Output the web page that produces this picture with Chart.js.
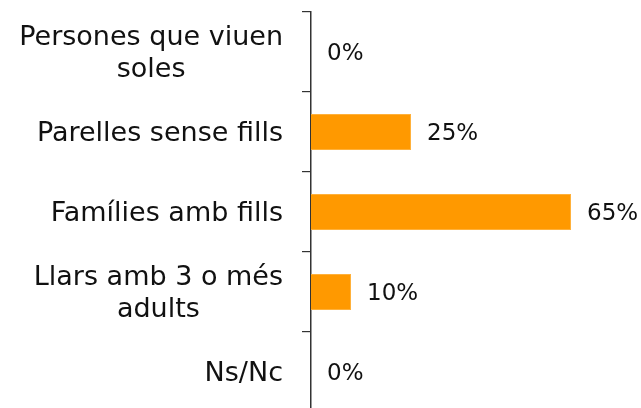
<!DOCTYPE html>
<html>
<head>
<meta charset="utf-8">
<script src="https://cdn.jsdelivr.net/npm/chart.js@4"></script>
<style>
  html, body { margin: 0; padding: 0; background: #fff; overflow: hidden; }
  #wrap { width: 641px; height: 412px; }
</style>
</head>
<body>
<div id="wrap"><canvas id="chart"></canvas></div>
<script>
const categories = [
  ['Persones que viuen', 'soles'],
  ['Parelles sense fills'],
  ['Famílies amb fills'],
  ['Llars amb 3 o més', 'adults'],
  ['Ns/Nc']
];
const values = [0, 25, 65, 10, 0];

const FONT = '"DejaVu Sans", sans-serif';

// category labels: block right-aligned to the axis, lines centred in the block
const catLabels = {
  id: 'catLabels',
  afterDraw(chart) {
    const ctx = chart.ctx;
    const y = chart.scales.y;
    ctx.save();
    ctx.font = '27px ' + FONT;
    ctx.fillStyle = '#111';
    ctx.textAlign = 'center';
    ctx.textBaseline = 'middle';
    const right = 283, lh = 32;
    categories.forEach((lines, i) => {
      const w = Math.max(...lines.map(l => ctx.measureText(l).width));
      const cx = right - w / 2;
      const cy = y.getPixelForValue(i) + 2;
      lines.forEach((l, j) => {
        ctx.fillText(l, cx, cy + (j - (lines.length - 1) / 2) * lh);
      });
    });
    ctx.restore();
  }
};

const valueLabels = {
  id: 'valueLabels',
  afterDatasetsDraw(chart) {
    const ctx = chart.ctx;
    const meta = chart.getDatasetMeta(0);
    ctx.save();
    ctx.font = '23px ' + FONT;
    ctx.fillStyle = '#111';
    ctx.textAlign = 'left';
    ctx.textBaseline = 'middle';
    meta.data.forEach((bar, i) => {
      ctx.fillText(values[i] + '%', bar.x + 16, bar.y + 2);
    });
    ctx.restore();
  }
};

new Chart(document.getElementById('chart'), {
  type: 'bar',
  data: {
    labels: categories,
    datasets: [{
      data: values,
      backgroundColor: '#FF9900',
      borderColor: '#FFB13B',
      borderWidth: 1,
      categoryPercentage: 1,
      barPercentage: 0.45
    }]
  },
  options: {
    indexAxis: 'y',
    responsive: true,
    maintainAspectRatio: false,
    animation: false,
    layout: { padding: { top: 12, right: 10, bottom: 0, left: 0 } },
    plugins: { legend: { display: false }, tooltip: { enabled: false } },
    scales: {
      x: { display: false, min: 0, max: 80 },
      y: {
        ticks: { display: false },
        grid: { drawOnChartArea: false, tickLength: 9, color: '#333', lineWidth: 1.2, offset: true },
        border: { display: true, color: '#333', width: 1.5 },
        afterFit(scale) { scale.width = 311; }
      }
    }
  },
  plugins: [catLabels, valueLabels]
});
</script>
</body>
</html>
